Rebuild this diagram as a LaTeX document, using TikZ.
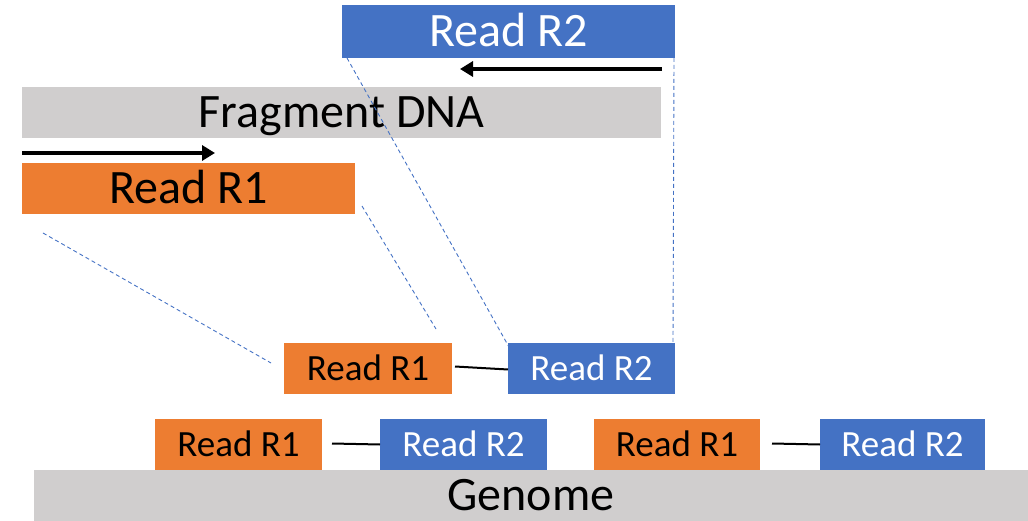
\documentclass[tikz,border=0pt]{standalone}
\usepackage{fontspec}
\setmainfont{Carlito}
\usetikzlibrary{arrows.meta,calc}
\definecolor{rorange}{HTML}{ED7D31}
\definecolor{rblue}{HTML}{4472C4}
\definecolor{rgray}{HTML}{D0CECE}
\tikzset{
  box/.style={anchor=north west, inner sep=0pt, outer sep=0pt, draw=none, text depth=0pt},
  orangebox/.style={box, fill=rorange, text=black},
  bluebox/.style={box, fill=rblue, text=white},
  graybox/.style={box, fill=rgray, text=black},
  big/.style={font=\fontsize{48}{52}\selectfont, text height=30pt},
  small/.style={font=\fontsize{37}{40}\selectfont, text height=23pt},
  proj/.style={draw=rblue, line width=0.9pt, dash pattern=on 4pt off 3pt},
  link/.style={draw=black, line width=2pt},
  dir/.style={draw=black, line width=3.5pt, -{Triangle[length=13pt,width=15pt]}},
}
\begin{document}
\begin{tikzpicture}[x=1pt,y=-1pt]
\useasboundingbox (0,0) rectangle (1028,521);
% top reads and fragment
\node[bluebox, big, minimum width=333pt, minimum height=53pt] (r2top) at (342,5) {Read R2};
\node[graybox, big, minimum width=639pt, minimum height=51pt] (frag) at (22,87) {Fragment DNA};
\node[orangebox, big, minimum width=333pt, minimum height=51pt] (r1top) at (22,163) {Read R1};
% direction arrows
\coordinate (a2s) at (662,69);
\coordinate (a2e) at (460,69);
\coordinate (a1s) at (22,153);
\coordinate (a1e) at (215,153);
\draw[dir] (a2s) -- (a2e);
\draw[dir] (a1s) -- (a1e);
% middle pair
\node[orangebox, small, minimum width=168pt, minimum height=51pt] (r1mid) at (284,343) {Read R1};
\node[bluebox, small, minimum width=167pt, minimum height=51pt] (r2mid) at (508,343) {Read R2};
\draw[link] ($(r1mid.east)+(3,-2)$) -- ($(r2mid.west)+(0,1)$);
% genome
\node[graybox, big, minimum width=994pt, minimum height=51pt] (genome) at (34,470) {Genome};
% bottom pairs
\node[orangebox, small, minimum width=167pt, minimum height=51pt] (r1a) at (155,419) {Read R1};
\node[bluebox, small, minimum width=167pt, minimum height=51pt] (r2a) at (380,419) {Read R2};
\node[orangebox, small, minimum width=166pt, minimum height=51pt] (r1b) at (594,419) {Read R1};
\node[bluebox, small, minimum width=165pt, minimum height=51pt] (r2b) at (820,419) {Read R2};
\draw[link] ($(r1a.east)+(10,-1)$) -- ($(r2a.west)+(0,0)$);
\draw[link] ($(r1b.east)+(12,-1)$) -- ($(r2b.west)+(0,0)$);
% projection lines
\coordinate (p1a) at (43,233);
\coordinate (p1b) at (271,363);
\coordinate (p2a) at (362,206);
\coordinate (p2b) at (436,329);
\draw[proj] (p1a) -- (p1b);
\draw[proj] (p2a) -- (p2b);
\draw[proj] ($(r2top.south west)+(5,0)$) -- ($(r2mid.north west)+(1,4)$);
\draw[proj] ($(r2top.south east)+(-1,0)$) -- ($(r2mid.north east)+(-2,0)$);
\end{tikzpicture}
\end{document}
